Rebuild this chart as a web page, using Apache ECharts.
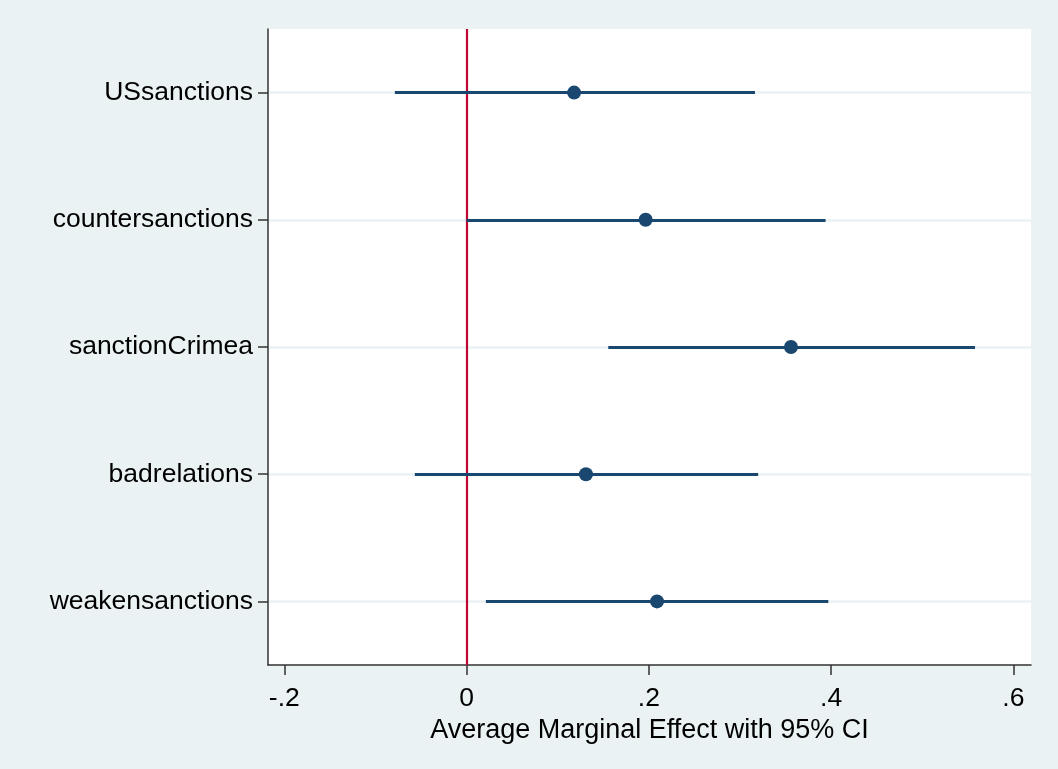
<!DOCTYPE html>
<html>
<head>
<meta charset="utf-8">
<script src="https://cdn.jsdelivr.net/npm/echarts@6/dist/echarts.min.js"></script>
<style>
  html, body { margin: 0; padding: 0; background: #eaf2f3; }
  #chart { width: 1058px; height: 769px; }
</style>
</head>
<body>
<div id="chart"></div>
<script>
// coefficient names, top to bottom
var categories = ['USsanctions', 'countersanctions', 'sanctionCrimea', 'badrelations', 'weakensanctions'];
// average marginal effects and 95% CI bounds
var estimates = [0.118, 0.1965, 0.356, 0.131, 0.209];
var ciLow = [-0.0787, 0.000, 0.1555, -0.0568, 0.0212];
var ciHigh = [0.3165, 0.394, 0.558, 0.320, 0.397];
var xTicks = [-0.2, 0, 0.2, 0.4, 0.6];

var navy = '#1a476f';
var font = 'Liberation Sans, Arial, sans-serif';

function fmt(v) {
    // Stata style: drop the leading zero
    if (Math.abs(v) < 1e-9) return '0';
    var s = String(Math.round(v * 10) / 10);
    return s.replace(/^(-?)0\./, '$1.');
}

var chart = echarts.init(document.getElementById('chart'));

chart.setOption({
    backgroundColor: '#eaf2f3',
    animation: false,
    grid: {
        left: 268,
        top: 29,
        right: 27,
        bottom: 104,
        show: true,
        backgroundColor: '#ffffff',
        borderWidth: 0
    },
    xAxis: {
        type: 'value',
        min: -0.2179,
        max: 0.6194,
        name: 'Average Marginal Effect with 95% CI',
        nameLocation: 'middle',
        nameGap: 44,
        nameTextStyle: {color: '#000', fontSize: 27, fontFamily: font},
        axisLine: {show: true, onZero: false, lineStyle: {color: '#333', width: 1.5}},
        axisTick: {show: true, length: 10, customValues: xTicks, lineStyle: {color: '#333', width: 1.5}},
        axisLabel: {
            customValues: xTicks,
            margin: 20,
            color: '#000',
            fontSize: 26.5,
            fontFamily: font,
            formatter: fmt
        },
        splitLine: {show: false}
    },
    yAxis: {
        type: 'category',
        data: categories,
        inverse: true,
        boundaryGap: true,
        axisLine: {show: true, onZero: false, lineStyle: {color: '#333', width: 1.5}},
        axisTick: {show: true, alignWithLabel: true, length: 10, lineStyle: {color: '#333', width: 1.5}},
        axisLabel: {margin: 15, color: '#000', fontSize: 26.5, fontFamily: font},
        // gridlines through each coefficient row
        splitLine: {show: true, alignWithLabel: true, lineStyle: {color: '#eaf2f3', width: 2.5}}
    },
    series: [
        {
            // zero reference line
            type: 'line',
            data: [],
            silent: true,
            z: 1,
            markLine: {
                silent: true,
                animation: false,
                symbol: ['none', 'none'],
                label: {show: false},
                data: [
                    {xAxis: 0, lineStyle: {color: '#c10534', width: 2.2, type: 'solid', opacity: 1}}
                ]
            }
        },
        {
            // 95% confidence intervals
            type: 'line',
            data: [],
            silent: true,
            z: 3,
            markLine: {
                silent: true,
                animation: false,
                symbol: ['none', 'none'],
                label: {show: false},
                lineStyle: {color: navy, width: 3, type: 'solid', opacity: 1},
                data: categories.map(function (c, i) {
                    return [{coord: [ciLow[i], c]}, {coord: [ciHigh[i], c]}];
                })
            }
        },
        {
            type: 'scatter',
            z: 4,
            symbol: 'circle',
            symbolSize: 14,
            itemStyle: {color: navy, opacity: 1},
            data: categories.map(function (c, i) { return [estimates[i], c]; })
        }
    ]
});
</script>
</body>
</html>
